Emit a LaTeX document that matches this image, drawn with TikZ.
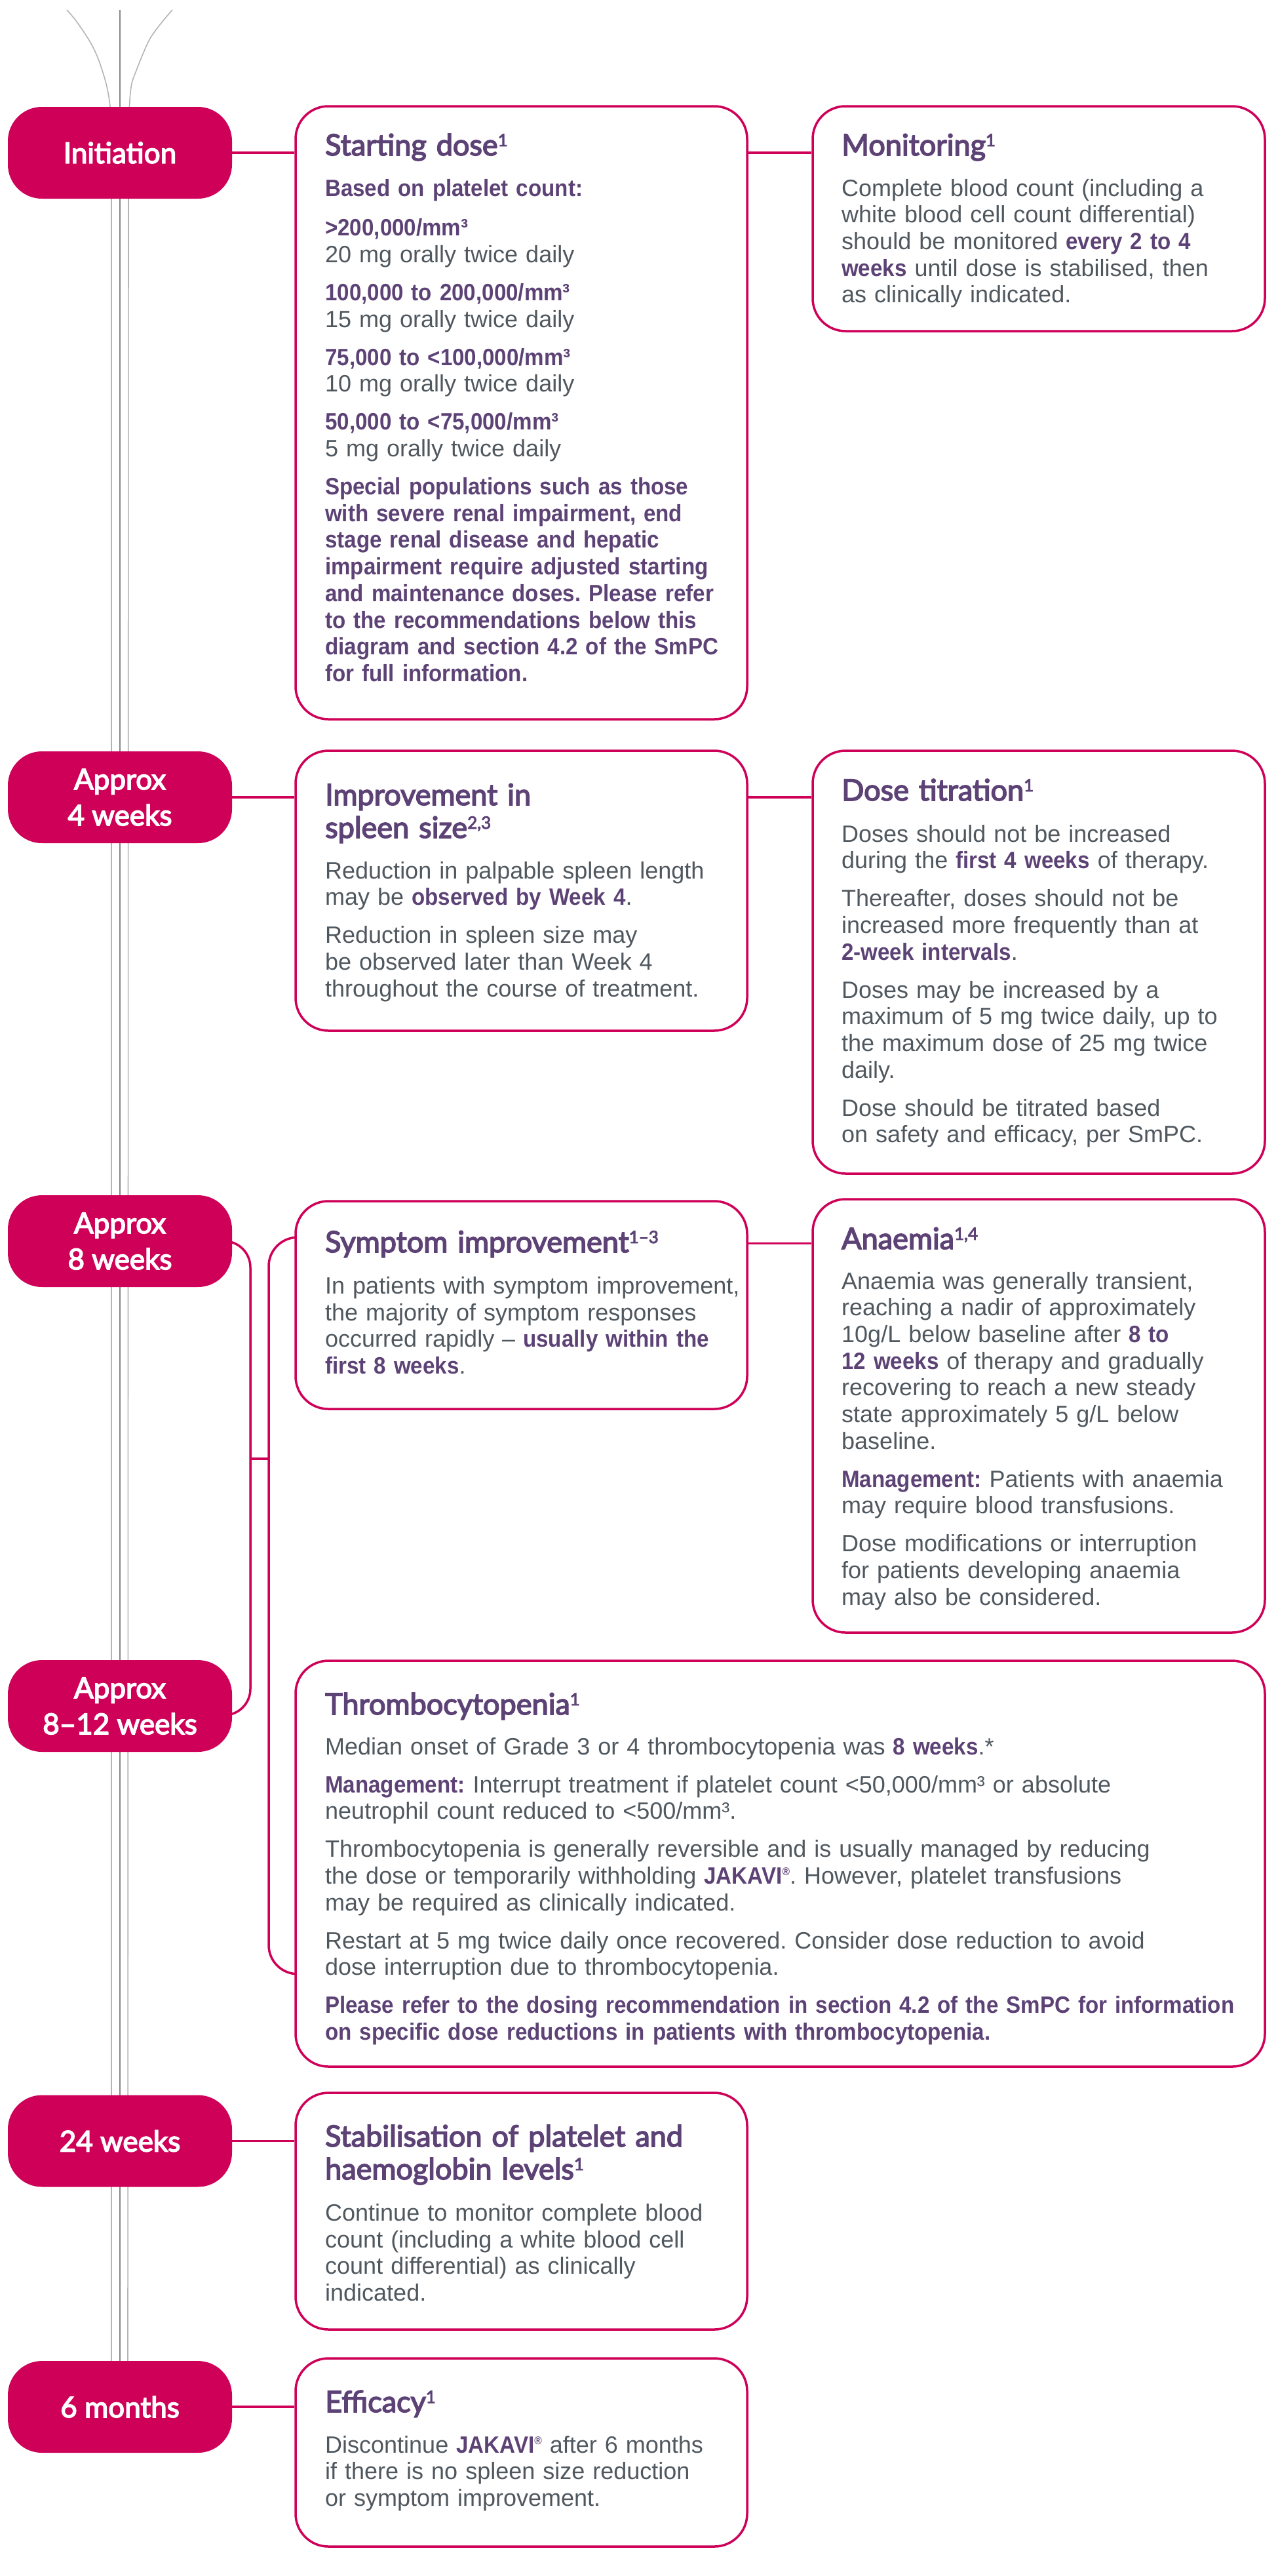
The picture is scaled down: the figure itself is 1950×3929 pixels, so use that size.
\documentclass[tikz,border=0pt]{standalone}
\usepackage{fontspec}
\setmainfont{Liberation Sans}[BoldFeatures={FakeStretch=0.92}]
\newfontfamily\titlefont{Lato}[FakeBold=3.5]
\usetikzlibrary{calc}
\definecolor{mag}{RGB}{206,0,88}
\definecolor{pur}{RGB}{93,66,118}
\definecolor{txt}{RGB}{80,88,95}
\definecolor{fib}{RGB}{180,180,180}
\newcommand\tsup[1]{\raisebox{14pt}{\fontsize{26}{26}\selectfont #1}}
\newcommand\regm{\raisebox{13pt}{\fontsize{17}{17}\selectfont ®}}
\newcommand\hb[1]{{\bfseries\color{pur}#1}}
\pgfdeclarelayer{bg}
\pgfsetlayers{bg,main}
\tikzset{
  lab/.style={fill=mag, rounded corners=52pt, minimum width=342pt, minimum height=140pt,
    inner sep=0pt, text=white, font=\titlefont\fontsize{44}{55}\selectfont, align=center},
  card/.style={draw=mag, line width=3.5pt, fill=white, rounded corners=50pt, inner sep=0pt},
  conn/.style={draw=mag, line width=3.5pt},
  ttl/.style={anchor=base west, inner sep=0pt, text=pur,
    font=\titlefont\fontsize{45}{50}\selectfont, align=left, text width=1000pt},
  bod/.style={anchor=base west, inner sep=0pt, text=txt,
    font=\frenchspacing\fontsize{36}{40.7}\selectfont, align=left, text width=1500pt},
  fibre/.style={draw=fib, line width=1.6pt},
  fibremid/.style={draw=fib!75!black, line width=2pt}
}
\begin{document}
\begin{tikzpicture}[x=1pt,y=-1pt]
\useasboundingbox (0,0) rectangle (1950,3929);

% ---------- left labels ----------
\node[lab] (init) at (183,233) {Initiation};
\node[lab] (w4) at (183,1216) {Approx\\4 weeks};
\node[lab] (w8) at (183,1893) {Approx\\8 weeks};
\node[lab] (w812) at (183,2602) {Approx\\8–12 weeks};
\node[lab] (w24) at (183,3265.5) {24 weeks};
\node[lab] (m6) at (183,3671) {6 months};

% ---------- cards ----------
\node[card, minimum width=689pt, minimum height=935pt] (start) at (795.5,629.5) {};
\node[card, minimum width=690pt, minimum height=343pt] (mon) at (1585,333.5) {};
\node[card, minimum width=689pt, minimum height=427pt] (impr) at (795.5,1358.5) {};
\node[card, minimum width=690pt, minimum height=645pt] (dose) at (1585,1467.5) {};
\node[card, minimum width=689pt, minimum height=317pt] (sym) at (795.5,1990.5) {};
\node[card, minimum width=690pt, minimum height=661pt] (anae) at (1585,2159.5) {};
\node[card, minimum width=1479pt, minimum height=619pt] (thr) at (1190.5,2842.5) {};
\node[card, minimum width=689pt, minimum height=361pt] (stab) at (795.5,3372.5) {};
\node[card, minimum width=689pt, minimum height=287pt] (eff) at (795.5,3740.5) {};

\coordinate (bl) at (382,2225);
\coordinate (br) at (410,2225);

% ---------- background: fibres and connectors ----------
\begin{pgfonlayer}{bg}
\draw[fibre] plot[smooth] coordinates {(102,15) (117,33) (137,63) (150,90) (163,132) (169,175) (170,260)};
\draw[fibre] (170,260) -- (170,3650);
\draw[fibre] plot[smooth] coordinates {(263,15) (230,57) (207,110) (200,133) (197,175) (196,260)};
\draw[fibre] (196,260) -- (195,3650);
\draw[fibremid] (183,15) -- (183,3650);

\draw[conn] (init.east) -- (init.east -| start.west);
\draw[conn] (init.east -| start.east) -- (init.east -| mon.west);
\draw[conn] (w4.east) -- (w4.east -| impr.west);
\draw[conn] (w4.east -| impr.east) -- (w4.east -| dose.west);
\draw[conn] ($(sym.north east)+(0,66)$) -- ($(anae.north west)+(0,69)$);
\draw[conn] (w24.east) -- (w24.east -| stab.west);
\draw[conn] (m6.east) -- (m6.east -| eff.west);

\draw[conn, rounded corners=40pt] (w8.center) -| (bl) |- ($(w812.center)+(0,14)$);
\draw[conn, rounded corners=44pt] ($(sym.north)+(0,57)$) -| (br) |- ($(thr.south)+(0,-143)$);
\draw[conn] (bl) -- (br);
\end{pgfonlayer}

% ---------- texts ----------
\node[ttl] (start-t) at (496,237) {Starting dose\tsup{1}};
\node[bod] (start-b) at (496,299) {\hb{Based on platelet count:}\\[20pt]
\hb{>200,000/mm³}\\
20 mg orally twice daily\\[17.3pt]
\hb{100,000 to 200,000/mm³}\\
15 mg orally twice daily\\[17.3pt]
\hb{75,000 to <100,000/mm³}\\
10 mg orally twice daily\\[17.3pt]
\hb{50,000 to <75,000/mm³}\\
5 mg orally twice daily\\[17.3pt]
\hb{Special populations such as those\\
with severe renal impairment, end\\
stage renal disease and hepatic\\
impairment require adjusted starting\\
and maintenance doses. Please refer\\
to the recommendations below this\\
diagram and section 4.2 of the SmPC\\
for full information.}};

\node[ttl] (mon-t) at (1284,237) {Monitoring\tsup{1}};
\node[bod] (mon-b) at (1284,299) {Complete blood count (including a\\
white blood cell count differential)\\
should be monitored \hb{every 2 to 4}\\
\hb{weeks} until dose is stabilised, then\\
as clinically indicated.};

\node[ttl] (impr-t) at (496,1228) {Improvement in\\spleen size\tsup{2,3}};
\node[bod] (impr-b) at (496,1340) {Reduction in palpable spleen length\\
may be \hb{observed by Week 4}.\\[17.3pt]
Reduction in spleen size may\\
be observed later than Week 4\\
throughout the course of treatment.};

\node[ttl] (dose-t) at (1284,1221) {Dose titration\tsup{1}};
\node[bod] (dose-b) at (1284,1284) {Doses should not be increased\\
during the \hb{first 4 weeks} of therapy.\\[17.3pt]
Thereafter, doses should not be\\
increased more frequently than at\\
\hb{2-week intervals}.\\[17.3pt]
Doses may be increased by a\\
maximum of 5 mg twice daily, up to\\
the maximum dose of 25 mg twice\\
daily.\\[17.3pt]
Dose should be titrated based\\
on safety and efficacy, per SmPC.};

\node[ttl] (sym-t) at (496,1910) {Symptom improvement\tsup{1–3}};
\node[bod] (sym-b) at (496,1973.5) {In patients with symptom improvement,\\
the majority of symptom responses\\
occurred rapidly – \hb{usually within the}\\
\hb{first 8 weeks}.};

\node[ttl] (anae-t) at (1284,1905) {Anaemia\tsup{1,4}};
\node[bod] (anae-b) at (1284,1966) {Anaemia was generally transient,\\
reaching a nadir of approximately\\
10g/L below baseline after \hb{8 to}\\
\hb{12 weeks} of therapy and gradually\\
recovering to reach a new steady\\
state approximately 5 g/L below\\
baseline.\\[17.3pt]
\hb{Management:} Patients with anaemia\\
may require blood transfusions.\\[17.3pt]
Dose modifications or interruption\\
for patients developing anaemia\\
may also be considered.};

\node[ttl] (thr-t) at (496,2615) {Thrombocytopenia\tsup{1}};
\node[bod] (thr-b) at (496,2676) {Median onset of Grade 3 or 4 thrombocytopenia was \hb{8 weeks}.*\\[17.3pt]
\hb{Management:} Interrupt treatment if platelet count <50,000/mm³ or absolute\\
neutrophil count reduced to <500/mm³.\\[17.3pt]
Thrombocytopenia is generally reversible and is usually managed by reducing\\
the dose or temporarily withholding \hb{JAKAVI\regm}. However, platelet transfusions\\
may be required as clinically indicated.\\[17.3pt]
Restart at 5 mg twice daily once recovered. Consider dose reduction to avoid\\
dose interruption due to thrombocytopenia.\\[17.3pt]
\hb{Please refer to the dosing recommendation in section 4.2 of the SmPC for information\\
on specific dose reductions in patients with thrombocytopenia.}};

\node[ttl] (stab-t) at (496,3274) {Stabilisation of platelet and\\haemoglobin levels\tsup{1}};
\node[bod] (stab-b) at (496,3387.5) {Continue to monitor complete blood\\
count (including a white blood cell\\
count differential) as clinically\\
indicated.};

\node[ttl] (eff-t) at (496,3679) {Efficacy\tsup{1}};
\node[bod] (eff-b) at (496,3741) {Discontinue \hb{JAKAVI\regm} after 6 months\\
if there is no spleen size reduction\\
or symptom improvement.};
\end{tikzpicture}
\end{document}
